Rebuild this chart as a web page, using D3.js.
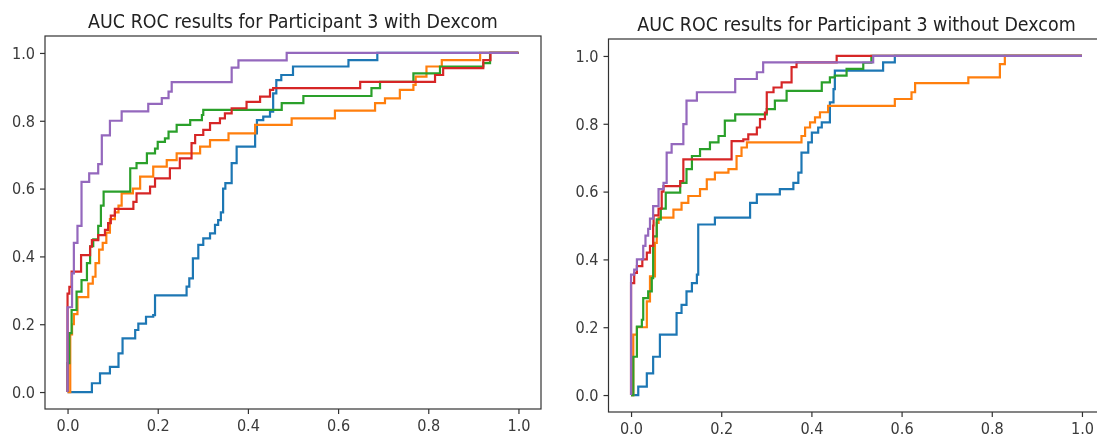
<!DOCTYPE html>
<html>
<head>
<meta charset="utf-8">
<script src="https://cdn.jsdelivr.net/npm/d3@7"></script>
<style>
  body { margin: 0; background: #fff; }
  svg text { font-family: "DejaVu Sans", sans-serif; transform-box: fill-box; transform-origin: center; transform: scaleY(1.15); }
</style>
</head>
<body>
<svg width="1097" height="442"></svg>
<script>
// tick values shared by both panels
var tickValues = [0, 0.2, 0.4, 0.6, 0.8, 1.0];
var titles = ['AUC ROC results for Participant 3 with Dexcom', 'AUC ROC results for Participant 3 without Dexcom'];
var colors = ['#1f77b4', '#ff7f0e', '#2ca02c', '#d62728', '#9467bd'];

// ROC curves, each point = [fpr where tpr jumps, tpr after the jump]
var withBlue = [[0,0],[0.054,0.026],[0.072,0.055],[0.094,0.074],[0.113,0.114],[0.122,0.158],[0.150,0.183],[0.157,0.202],[0.174,0.222],[0.19,0.227],[0.194,0.285],[0.264,0.311],[0.27,0.335],[0.278,0.394],[0.29,0.434],[0.301,0.453],[0.316,0.468],[0.327,0.493],[0.334,0.507],[0.34,0.53],[0.345,0.6],[0.35,0.616],[0.364,0.675],[0.375,0.724],[0.416,0.763],[0.42,0.802],[0.434,0.812],[0.449,0.827],[0.456,0.881],[0.463,0.92],[0.474,0.935],[0.5,0.96],[0.623,0.979],[0.687,1],[1,1]];
var withOrange = [[0,0],[0.006,0.17],[0.01,0.2],[0.014,0.23],[0.022,0.28],[0.046,0.32],[0.056,0.34],[0.062,0.38],[0.07,0.42],[0.078,0.44],[0.086,0.47],[0.094,0.51],[0.105,0.53],[0.113,0.55],[0.12,0.586],[0.145,0.6],[0.161,0.635],[0.19,0.665],[0.22,0.684],[0.242,0.704],[0.294,0.724],[0.316,0.743],[0.357,0.763],[0.416,0.788],[0.497,0.807],[0.593,0.83],[0.682,0.852],[0.704,0.866],[0.737,0.891],[0.767,0.906],[0.772,0.93],[0.796,0.96],[0.83,0.979],[0.915,1],[1,1]];
var withGreen = [[0,0],[0,0.085],[0.004,0.174],[0.009,0.242],[0.02,0.296],[0.031,0.33],[0.043,0.38],[0.05,0.43],[0.057,0.45],[0.068,0.49],[0.074,0.55],[0.08,0.591],[0.139,0.66],[0.153,0.675],[0.176,0.704],[0.194,0.718],[0.2,0.738],[0.216,0.748],[0.224,0.768],[0.242,0.788],[0.272,0.802],[0.298,0.817],[0.301,0.832],[0.475,0.852],[0.523,0.873],[0.674,0.896],[0.693,0.915],[0.767,0.94],[0.826,0.96],[0.922,0.97],[0.937,1],[1,1]];
var withRed = [[0,0],[0,0.29],[0.004,0.31],[0.009,0.355],[0.03,0.404],[0.05,0.429],[0.054,0.448],[0.068,0.463],[0.083,0.478],[0.09,0.498],[0.096,0.52],[0.105,0.54],[0.146,0.561],[0.153,0.586],[0.183,0.606],[0.194,0.63],[0.227,0.66],[0.249,0.689],[0.275,0.734],[0.283,0.758],[0.301,0.773],[0.316,0.793],[0.338,0.807],[0.349,0.822],[0.364,0.837],[0.397,0.856],[0.427,0.871],[0.449,0.891],[0.456,0.896],[0.649,0.915],[0.815,0.935],[0.833,0.955],[0.922,0.979],[0.938,1],[1,1]];
var withPurple = [[0,0],[0,0.25],[0.01,0.35],[0.014,0.44],[0.022,0.49],[0.031,0.62],[0.048,0.645],[0.068,0.672],[0.076,0.757],[0.094,0.80],[0.12,0.828],[0.179,0.85],[0.209,0.867],[0.224,0.886],[0.231,0.914],[0.364,0.957],[0.379,0.978],[0.486,1],[1,1]];

var withoutBlue = [[0,0],[0.016,0.025],[0.035,0.064],[0.049,0.113],[0.064,0.178],[0.101,0.242],[0.112,0.266],[0.123,0.306],[0.135,0.33],[0.146,0.355],[0.149,0.503],[0.186,0.523],[0.264,0.567],[0.279,0.592],[0.33,0.607],[0.36,0.626],[0.371,0.656],[0.378,0.715],[0.393,0.745],[0.401,0.774],[0.415,0.789],[0.423,0.804],[0.441,0.863],[0.449,0.902],[0.452,0.957],[0.559,0.981],[0.585,1],[1,1]];
var withoutOrange = [[0,0],[0.005,0.178],[0.013,0.2],[0.035,0.276],[0.042,0.35],[0.053,0.449],[0.057,0.508],[0.061,0.523],[0.094,0.547],[0.112,0.567],[0.127,0.587],[0.153,0.607],[0.168,0.636],[0.186,0.656],[0.216,0.666],[0.234,0.705],[0.245,0.73],[0.257,0.745],[0.378,0.764],[0.386,0.789],[0.397,0.804],[0.408,0.819],[0.419,0.834],[0.437,0.853],[0.585,0.873],[0.622,0.893],[0.63,0.92],[0.748,0.937],[0.818,0.976],[0.829,1],[1,1]];
var withoutGreen = [[0,0],[0.005,0.113],[0.013,0.202],[0.024,0.222],[0.027,0.286],[0.038,0.306],[0.046,0.345],[0.049,0.468],[0.057,0.518],[0.066,0.55],[0.077,0.597],[0.109,0.626],[0.123,0.666],[0.135,0.705],[0.153,0.725],[0.175,0.745],[0.194,0.764],[0.208,0.809],[0.231,0.828],[0.301,0.843],[0.319,0.868],[0.345,0.897],[0.423,0.922],[0.441,0.937],[0.452,0.942],[0.478,0.962],[0.515,0.98],[0.533,1],[1,1]];
var withoutRed = [[0,0],[0,0.33],[0.007,0.36],[0.013,0.38],[0.025,0.4],[0.035,0.42],[0.042,0.44],[0.049,0.5],[0.05,0.53],[0.061,0.55],[0.068,0.6],[0.072,0.616],[0.109,0.631],[0.116,0.695],[0.223,0.749],[0.249,0.754],[0.26,0.769],[0.279,0.789],[0.286,0.814],[0.297,0.833],[0.301,0.893],[0.316,0.907],[0.334,0.922],[0.356,0.967],[0.367,0.981],[0.456,1],[1,1]];
var withoutPurple = [[0,0],[0,0.355],[0.007,0.37],[0.013,0.4],[0.027,0.44],[0.032,0.47],[0.038,0.49],[0.042,0.52],[0.049,0.557],[0.061,0.607],[0.072,0.626],[0.079,0.715],[0.09,0.74],[0.116,0.799],[0.123,0.868],[0.146,0.893],[0.231,0.932],[0.279,0.952],[0.293,0.981],[0.537,1],[1,1]];

var panels = [
  {title: titles[0], curves: [withBlue, withOrange, withGreen, withRed, withPurple], left: 45, right: 541, top: 36, bottom: 409, titleY: 27},
  {title: titles[1], curves: [withoutBlue, withoutOrange, withoutGreen, withoutRed, withoutPurple], left: 608.5, right: 1104.5, top: 39, bottom: 412, titleY: 30}
];

var svg = d3.select('svg');
var defs = svg.append('defs');
defs.append('filter').attr('id', 'soft').attr('x', '-5%').attr('y', '-5%').attr('width', '110%').attr('height', '110%')
  .append('feGaussianBlur').attr('stdDeviation', 0.6);
var root = svg.append('g').attr('filter', 'url(#soft)');
root.append('rect').attr('width', 1097).attr('height', 442).attr('fill', '#fff');

panels.forEach(function(p) {
  var x = d3.scaleLinear().domain([-0.05, 1.05]).range([p.left, p.right]);
  var y = d3.scaleLinear().domain([-0.05, 1.05]).range([p.bottom, p.top]);
  var g = root.append('g');

  var line = d3.line().x(function(d) { return x(d[0]); }).y(function(d) { return y(d[1]); }).curve(d3.curveStepAfter);
  p.curves.forEach(function(c, i) {
    g.append('path').attr('d', line(c)).attr('fill', 'none').attr('stroke', colors[i])
      .attr('stroke-width', 2.2).attr('stroke-linejoin', 'miter');
  });

  var xa = g.append('g').attr('transform', 'translate(0,' + p.bottom + ')')
    .call(d3.axisBottom(x).tickValues(tickValues).tickFormat(d3.format('.1f')).tickSize(5).tickPadding(6));
  var ya = g.append('g').attr('transform', 'translate(' + p.left + ',0)')
    .call(d3.axisLeft(y).tickValues(tickValues).tickFormat(d3.format('.1f')).tickSize(5).tickPadding(5));
  [xa, ya].forEach(function(a) {
    a.select('.domain').remove();
    a.selectAll('line').attr('stroke', '#333').attr('stroke-width', 1.2);
    a.selectAll('text').attr('fill', '#3a3a3a').style('font-size', '14.5px').style('font-family', '"DejaVu Sans", sans-serif');
  });

  g.append('rect').attr('x', p.left).attr('y', p.top).attr('width', p.right - p.left).attr('height', p.bottom - p.top)
    .attr('fill', 'none').attr('stroke', '#333').attr('stroke-width', 1.2);

  g.append('text').attr('x', (p.left + p.right) / 2).attr('y', p.titleY).attr('text-anchor', 'middle')
    .attr('fill', '#222').style('font-size', '17.5px').text(p.title);
});
</script>
</body>
</html>
